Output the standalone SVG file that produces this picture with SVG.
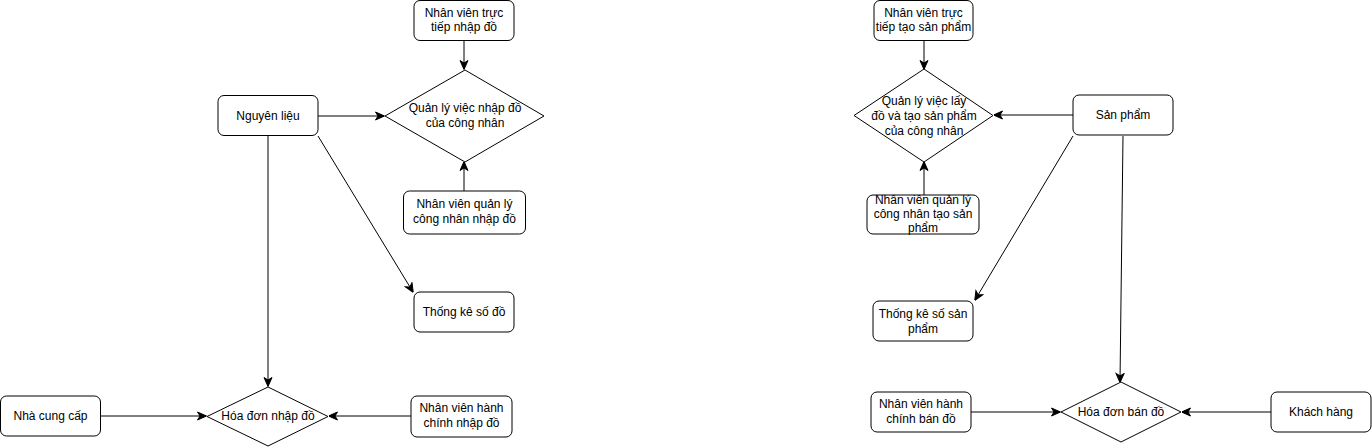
<svg xmlns="http://www.w3.org/2000/svg" width="1372" height="447" viewBox="0 0 1372 447">
<style>
.n{fill:#fff;stroke:#000;stroke-width:1}
.t{font-family:"Liberation Sans",Arial,sans-serif;font-size:12px;fill:#000;text-anchor:middle}
.c{fill:none;stroke:#000;stroke-width:1}
</style>
<defs>
<marker id="a" viewBox="0 0 10 10" markerWidth="10" markerHeight="10" refX="9.5" refY="5" orient="auto" markerUnits="userSpaceOnUse">
<path d="M1,1 L10,5 L1,9 L3.5,5 Z" fill="#000" stroke="#000" stroke-width="1"/>
</marker>
</defs>
<rect width="1372" height="447" fill="#fff"/>
<g id="connectors">
<path class="c" d="M464,40.5 L464,69" marker-end="url(#a)"/>
<path class="c" d="M318,116 L384,116" marker-end="url(#a)"/>
<path class="c" d="M464,191 L464,162" marker-end="url(#a)"/>
<path class="c" d="M268,136 L268,386" marker-end="url(#a)"/>
<path class="c" d="M318,136 L413,292" marker-end="url(#a)"/>
<path class="c" d="M411,416 L329,416" marker-end="url(#a)"/>
<path class="c" d="M100,416 L206,416" marker-end="url(#a)"/>
<path class="c" d="M924,40.5 L924,69" marker-end="url(#a)"/>
<path class="c" d="M1073,115 L994,115" marker-end="url(#a)"/>
<path class="c" d="M924,195 L924,162" marker-end="url(#a)"/>
<path class="c" d="M1073,136 L975,300" marker-end="url(#a)"/>
<path class="c" d="M1123,136 L1120,382" marker-end="url(#a)"/>
<path class="c" d="M971,412 L1060,412" marker-end="url(#a)"/>
<path class="c" d="M1271,412 L1182,412" marker-end="url(#a)"/>
</g>
<g id="nv-truc-tiep-nhap">
<rect class="n" x="414" y="0.5" width="100" height="40" rx="6"/>
<text class="t" x="464" y="17">Nhân viên trực</text>
<text class="t" x="464" y="31">tiếp nhập đồ</text>
</g>
<g id="ql-nhap-do">
<path class="n" d="M465,70 L544,116 L465,162 L385,116 Z"/>
<text class="t" x="465" y="112">Quản lý việc nhập đồ</text>
<text class="t" x="465" y="127">của công nhân</text>
</g>
<g id="nguyen-lieu">
<rect class="n" x="218" y="95.5" width="100" height="40" rx="6"/>
<text class="t" x="268" y="120">Nguyên liệu</text>
</g>
<g id="nv-quan-ly-nhap">
<rect class="n" x="403.5" y="191" width="122" height="43" rx="6"/>
<text class="t" x="464.5" y="208">Nhân viên quản lý</text>
<text class="t" x="464.5" y="223">công nhân nhập đồ</text>
</g>
<g id="thong-ke-so-do">
<rect class="n" x="414" y="292" width="100" height="40" rx="6"/>
<text class="t" x="464" y="316">Thống kê số đồ</text>
</g>
<g id="hoa-don-nhap">
<path class="n" d="M268,387 L328,416.5 L268,446 L207,416.5 Z"/>
<text class="t" x="268" y="420">Hóa đơn nhập đồ</text>
</g>
<g id="nv-hanh-chinh-nhap">
<rect class="n" x="411" y="396" width="101" height="41" rx="6"/>
<text class="t" x="461.5" y="412">Nhân viên hành</text>
<text class="t" x="461.5" y="427">chính nhập đồ</text>
</g>
<g id="nha-cung-cap">
<rect class="n" x="0.5" y="396" width="100" height="40" rx="6"/>
<text class="t" x="50.5" y="420">Nhà cung cấp</text>
</g>
<g id="nv-truc-tiep-tao">
<rect class="n" x="874" y="0.5" width="99" height="40" rx="6"/>
<text class="t" x="923.5" y="17">Nhân viên trực</text>
<text class="t" x="923.5" y="31">tiếp tạo sản phẩm</text>
</g>
<g id="ql-lay-do">
<path class="n" d="M924,69 L993,115.5 L924,162 L854,115.5 Z"/>
<text class="t" x="924" y="105">Quản lý việc lấy</text>
<text class="t" x="924" y="120">đồ và tạo sản phẩm</text>
<text class="t" x="924" y="135">của công nhân</text>
</g>
<g id="san-pham">
<rect class="n" x="1073" y="95" width="100" height="40" rx="6"/>
<text class="t" x="1123" y="119">Sản phẩm</text>
</g>
<g id="nv-quan-ly-tao">
<rect class="n" x="867" y="195" width="112" height="39" rx="6"/>
<text class="t" x="923" y="204">Nhân viên quản lý</text>
<text class="t" x="923" y="218">công nhân tạo sản</text>
<text class="t" x="923" y="232">phẩm</text>
</g>
<g id="thong-ke-san-pham">
<rect class="n" x="873" y="301" width="100" height="40" rx="6"/>
<text class="t" x="923" y="318">Thống kê số sản</text>
<text class="t" x="923" y="333">phẩm</text>
</g>
<g id="hoa-don-ban">
<path class="n" d="M1121,382 L1181,412 L1121,442 L1061,412 Z"/>
<text class="t" x="1121" y="416">Hóa đơn bán đồ</text>
</g>
<g id="nv-hanh-chinh-ban">
<rect class="n" x="871" y="392" width="100" height="40" rx="6"/>
<text class="t" x="921" y="408">Nhân viên hành</text>
<text class="t" x="921" y="423">chính bán đồ</text>
</g>
<g id="khach-hang">
<rect class="n" x="1271" y="392" width="100" height="40" rx="6"/>
<text class="t" x="1321" y="416">Khách hàng</text>
</g>
</svg>
